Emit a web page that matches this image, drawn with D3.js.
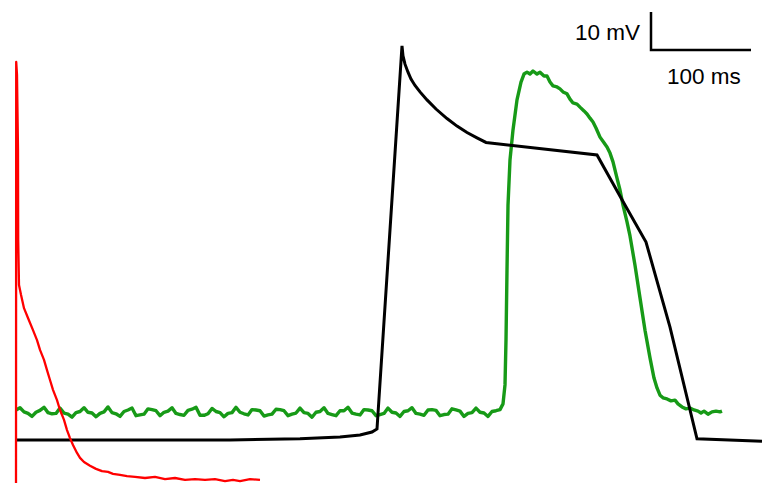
<!DOCTYPE html>
<html>
<head>
<meta charset="utf-8">
<script src="https://cdn.jsdelivr.net/npm/d3@7/dist/d3.min.js"></script>
<style>
  html, body { margin: 0; padding: 0; background: #fff; }
  svg { display: block; }
</style>
</head>
<body>
<svg id="chart" width="763" height="483"></svg>
<script>
// Model action potential (black): time in ms, membrane potential in mV
const modelTime = [0, 214, 284, 324, 344, 356, 361, 386, 387, 389, 392, 395, 399, 404, 411, 420, 431, 441, 451, 461, 470, 581, 606, 630, 654, 681, 746];
const modelVm   = [-85, -85, -84.7, -84.2, -83.7, -82.9, -82.1, 18.7, 16.1, 13.9, 11.8, 10.0, 8.3, 6.6, 4.5, 2.1, -0.4, -2.4, -4.1, -5.5, -6.7, -10.0, -21.8, -32.9, -55.3, -84.7, -85.3];

// Recorded optical action potential (green): resting segment sampled every 4 ms
const opticalRestStep = 4;
const opticalRest = [
  -77.1, -76.5, -77.6, -78.0, -78.8, -77.7, -77.2, -76.4, -77.8, -78.1,
  -78.0, -76.6, -77.9, -78.2, -79.0, -77.8, -77.5, -76.5, -77.7, -77.9,
  -78.9, -78.0, -77.6, -76.3, -77.8, -78.1, -78.8, -77.5, -77.1, -76.6,
  -78.6, -78.4, -78.2, -76.8, -77.0, -77.3, -78.6, -77.7, -77.4, -76.5,
  -78.0, -78.3, -78.5, -77.2, -76.9, -76.4, -78.5, -78.5, -78.1, -76.7,
  -77.5, -77.8, -78.9, -78.0, -77.8, -76.4, -77.7, -78.1, -78.4, -77.0,
  -77.1, -77.3, -78.7, -78.4, -78.2, -76.9, -77.0, -77.3, -78.6, -78.2,
  -77.9, -76.6, -77.8, -78.0, -79.0, -77.7, -77.5, -76.5, -78.0, -78.3,
  -78.6, -77.3, -77.3, -76.4, -77.9, -78.2, -78.4, -77.0, -77.1, -77.3,
  -78.6, -78.3, -78.0, -76.6, -77.7, -77.9, -78.8, -77.5, -77.3, -76.5,
  -78.0, -78.2, -78.5, -77.1, -77.0, -77.2, -78.6, -78.3, -78.2, -76.8,
  -77.1, -77.4, -78.8, -78.0, -77.8, -76.6, -77.7, -77.9, -78.8, -77.5,
  -77.3, -77.0
];
// Optical action potential: upstroke, plateau and repolarisation
const opticalApTime = [487, 489, 490, 491, 492, 494, 497, 501, 505, 508, 511, 514, 517, 521, 524, 528, 531, 534, 537, 541, 544, 547, 551, 554, 557, 561, 564, 568, 571, 574, 577, 580, 584, 588, 591, 594, 597, 601, 604, 607, 611, 614, 619, 624, 629, 634, 638, 641, 644, 647, 651, 655, 659, 662, 666, 670, 674, 678, 682, 685, 688, 692, 696, 700, 704, 706];
const opticalApVm   = [-75.5, -70.5, -58.7, -40.3, -23.2, -11.3, -3.4, 4.5, 9.2, 11.3, 11.8, 11.3, 12.1, 11.3, 11.8, 10.8, 10.8, 9.2, 8.2, 7.9, 7.4, 6.6, 6.1, 4.7, 3.7, 3.4, 2.6, 1.6, 0.8, -0.3, -1.3, -2.9, -5.3, -6.8, -7.9, -9.5, -11.8, -16.1, -19.2, -23.2, -27.6, -31.3, -39.0, -47.6, -56.1, -63.4, -68.7, -71.3, -73.2, -73.9, -74.2, -74.7, -74.5, -75.5, -76.3, -76.8, -76.6, -77.1, -77.4, -77.9, -77.4, -78.2, -77.6, -77.4, -77.6, -77.4];

// Stimulus artefact / fast transient (red)
const stimTime = [0, 0.2, 1, 2, 2.2, 3, 5, 8, 12, 17, 21, 24, 28, 31, 34, 37, 41, 44, 48, 51, 54, 57, 61, 64, 68, 74, 80, 86, 92, 97, 104, 111, 119, 129, 139, 149, 159, 169, 179, 189, 199, 209, 217, 224, 234, 244];
const stimVm   = [-98.2, 14.5, 11.1, -8.7, -32.4, -44.2, -46.8, -50.3, -52.9, -56.1, -58.7, -61.3, -63.9, -66.6, -69.2, -71.8, -74.5, -77.1, -79.7, -82.4, -84.5, -86.3, -88.4, -89.7, -90.8, -91.8, -92.6, -93.2, -93.4, -93.9, -94.2, -94.5, -94.7, -95.0, -94.7, -95.3, -95.0, -95.5, -95.3, -95.5, -95.3, -95.8, -95.5, -95.8, -95.3, -95.5];

// Scale bar sizes
const scaleBarMs = 100;
const scaleBarMv = 10;
const scaleBarLabels = ["10 mV", "100 ms"];

const svg = d3.select("#chart");

const x = d3.scaleLinear().domain([0, 747]).range([16, 763]);
const y = d3.scaleLinear().domain([-100, 20]).range([497, 41]);

const line = d3.line().x(d => x(d[0])).y(d => y(d[1]));

const opticalPts = opticalRest.map((v, i) => [i * opticalRestStep, v])
  .concat(opticalApTime.map((t, i) => [t, opticalApVm[i]]));
const modelPts = modelTime.map((t, i) => [t, modelVm[i]]);
const stimPts = stimTime.map((t, i) => [t, stimVm[i]]);

svg.append("path").datum(opticalPts)
  .attr("d", line).attr("fill", "none")
  .attr("stroke", "#179a17").attr("stroke-width", 3.4)
  .attr("stroke-linejoin", "round");

svg.append("path").datum(modelPts)
  .attr("d", line).attr("fill", "none")
  .attr("stroke", "#000").attr("stroke-width", 3)
  .attr("stroke-linejoin", "miter");

svg.append("path").datum(stimPts)
  .attr("d", line).attr("fill", "none")
  .attr("stroke", "#ff0000").attr("stroke-width", 2.3)
  .attr("stroke-linejoin", "round");

// Scale bar: corner at (t0, v0)
const t0 = 635, v0 = 17.6;
const sb = svg.append("g");
sb.append("path")
  .attr("d", `M${x(t0)},${y(v0 + scaleBarMv)} L${x(t0)},${y(v0)} L${x(t0 + scaleBarMs)},${y(v0)}`)
  .attr("fill", "none").attr("stroke", "#000").attr("stroke-width", 2.5);
sb.append("text")
  .attr("x", x(t0) - 11).attr("y", 40)
  .attr("text-anchor", "end")
  .attr("font-family", "Liberation Sans, Arial, sans-serif")
  .attr("font-size", 22.5)
  .text(scaleBarLabels[0]);
sb.append("text")
  .attr("x", x(t0) + 16).attr("y", 84)
  .attr("font-family", "Liberation Sans, Arial, sans-serif")
  .attr("font-size", 22.5)
  .text(scaleBarLabels[1]);
</script>
</body>
</html>
